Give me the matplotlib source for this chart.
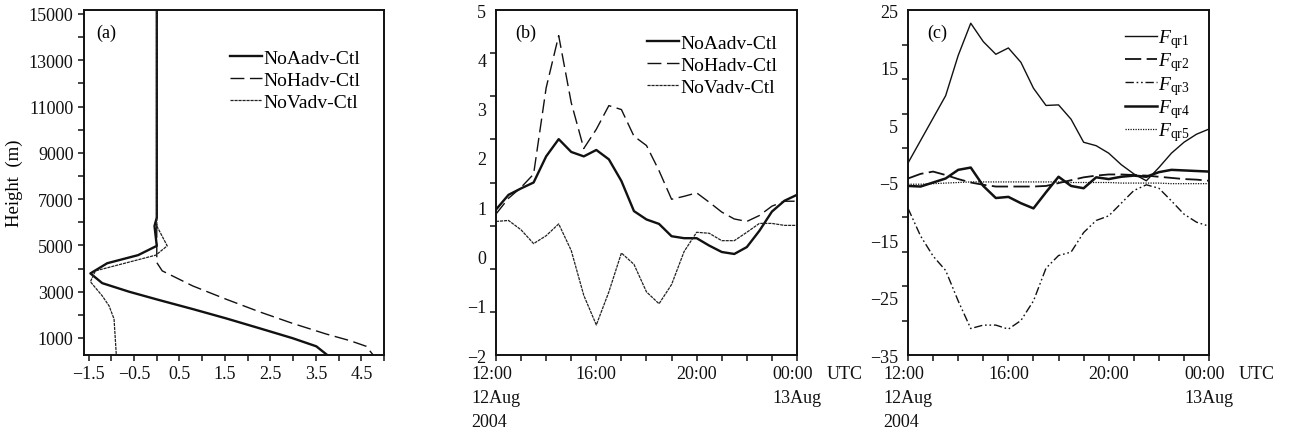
import matplotlib
matplotlib.use('Agg')
import matplotlib.pyplot as plt
import numpy as np

plt.rcParams['font.family'] = ['Liberation Serif', 'DejaVu Serif']
plt.rcParams['mathtext.fontset'] = 'custom'
plt.rcParams['mathtext.rm'] = 'Liberation Serif'
plt.rcParams['mathtext.it'] = 'Liberation Serif:italic'
plt.rcParams['axes.unicode_minus'] = True

# (a) vertical profiles, height in m
h_aadv = [15170, 6200, 5840, 4980, 4580, 4230, 3790, 3370, 3000, 2640, 2250, 1850, 1420, 990, 640, 265]
v_aadv = [0.0, 0.0, -0.05, 0.0, -0.41, -1.09, -1.46, -1.20, -0.61, 0.05, 0.79, 1.52, 2.26, 2.99, 3.51, 3.75]
h_hadv = [15170, 4260, 3900, 3250, 2680, 2130, 1630, 1170, 885, 640, 265]
v_hadv = [0.0, 0.0, 0.12, 0.79, 1.52, 2.26, 2.99, 3.73, 4.25, 4.61, 4.76]
h_vadv = [15170, 5840, 4980, 4580, 3900, 3430, 2820, 2390, 1820, 265]
v_vadv = [0.0, 0.0, 0.23, -0.02, -1.35, -1.46, -1.20, -1.05, -0.94, -0.89]

# (b) half-hourly series from 12:00 12 Aug to 00:00 13 Aug
hours = np.arange(0, 12.5, 0.5)
b_aadv = [0.95, 1.25, 1.38, 1.50, 2.03, 2.38, 2.12, 2.03, 2.16, 1.97, 1.53, 0.92, 0.75,
          0.66, 0.41, 0.37, 0.37, 0.22, 0.09, 0.05, 0.19, 0.52, 0.91, 1.13, 1.25]
b_hadv = [0.86, 1.18, 1.40, 1.67, 3.42, 4.48, 3.12, 2.19, 2.58, 3.06, 2.98, 2.44, 2.25,
          1.74, 1.16, 1.22, 1.29, 1.10, 0.90, 0.76, 0.71, 0.83, 1.02, 1.12, 1.12]
b_vadv = [0.71, 0.73, 0.54, 0.26, 0.42, 0.66, 0.12, -0.79, -1.39, -0.72, 0.07, -0.16, -0.72,
          -0.96, -0.57, 0.10, 0.49, 0.47, 0.32, 0.32, 0.49, 0.67, 0.67, 0.63, 0.63]

# (c) budget terms
fqr1 = [-1.6, 2.3, 6.2, 10.1, 17.1, 22.7, 19.5, 17.3, 18.4, 15.9, 11.4, 8.4, 8.5,
        6.0, 2.0, 1.4, 0.1, -1.9, -3.5, -4.7, -2.4, 0.1, 2.0, 3.4, 4.3]
fqr2 = [-4.3, -3.5, -3.1, -3.7, -4.4, -5.0, -5.4, -5.7, -5.7, -5.7, -5.7, -5.6, -5.1,
        -4.6, -4.1, -3.8, -3.6, -3.6, -3.7, -3.8, -4.0, -4.2, -4.4, -4.5, -4.7]
fqr3 = [-9.5, -14.3, -17.8, -20.3, -25.6, -30.4, -29.8, -29.8, -30.5, -29.0, -25.6, -19.9, -17.7,
        -17.1, -13.7, -11.6, -10.8, -8.6, -6.4, -5.4, -6.0, -8.2, -10.5, -11.9, -12.6]
fqr4 = [-5.6, -5.7, -5.0, -4.3, -2.8, -2.4, -5.6, -7.7, -7.5, -8.6, -9.5, -6.7, -4.0,
        -5.6, -6.0, -4.1, -4.4, -4.0, -3.8, -4.0, -3.2, -2.8, -2.9, -3.0, -3.1]
fqr5 = [-5.3, -5.3, -5.2, -5.1, -5.0, -4.9, -4.9, -4.9, -4.9, -4.9, -4.9, -4.9, -4.9,
        -5.0, -5.0, -5.0, -5.0, -5.1, -5.1, -5.1, -5.1, -5.2, -5.2, -5.2, -5.2]

time_ticks = [0, 4, 8, 12]
time_labels = ['12:00\n12Aug\n2004', '16:00', '20:00', '00:00\n13Aug']

TICK_FS = 13
LEG_FS = 14
K = '#111111'

fig = plt.figure(figsize=(12.97, 4.35), dpi=100)
ax_a = fig.add_axes([0.0648, 0.1816, 0.2313, 0.7931])
ax_b = fig.add_axes([0.3824, 0.1816, 0.2321, 0.7931])
ax_c = fig.add_axes([0.7001, 0.1816, 0.2321, 0.7931])

for ax in (ax_a, ax_b, ax_c):
    for s in ax.spines.values():
        s.set_linewidth(1.4)
        s.set_color(K)
    ax.tick_params(which='both', direction='out', length=4, width=1.1, colors=K,
                   labelsize=TICK_FS, top=False, right=False)

heavy = dict(color=K, lw=1.7, ls='-')
dash = dict(color=K, lw=1.0, ls=(0, (10, 4)))
thin = dict(color='#222222', lw=0.9, ls=(0, (2.5, 0.7)))
leg_kw = dict(loc='upper left', frameon=False, fontsize=LEG_FS, handlelength=1.65,
              handletextpad=0.05, borderpad=0, borderaxespad=0)

# (a)
ax_a.plot(v_aadv, h_aadv, label='NoAadv-Ctl', **heavy)
ax_a.plot(v_hadv, h_hadv, label='NoHadv-Ctl', **dash)
ax_a.plot(v_vadv, h_vadv, label='NoVadv-Ctl', **thin)
ax_a.set_xlim(-1.6, 5.0)
ax_a.set_ylim(265, 15170)
ax_a.set_xticks(np.arange(-1.5, 4.6, 1.0))
ax_a.set_xticks(np.arange(-1.0, 5.01, 1.0), minor=True)
ax_a.set_yticks(np.arange(1000, 15001, 2000))
ax_a.set_yticks(np.arange(2000, 14001, 2000), minor=True)
ax_a.set_ylabel('Height  (m)', fontsize=13.5, labelpad=4)
ax_a.text(0.04, 0.935, '(a)', transform=ax_a.transAxes, fontsize=13, va='center', ha='left')
ax_a.legend(bbox_to_anchor=(0.487, 0.885), labelspacing=0.22, **leg_kw)

# (b)
ax_b.plot(hours, b_aadv, label='NoAadv-Ctl', **heavy)
ax_b.plot(hours, b_hadv, label='NoHadv-Ctl', **dash)
ax_b.plot(hours, b_vadv, label='NoVadv-Ctl', **thin)
ax_b.set_ylim(-2, 5)
ax_b.set_yticks(np.arange(-2, 6, 1))
ax_b.set_yticks(np.linspace(-2, 5, 9), minor=True)
ax_b.tick_params(axis='y', which='major', length=0, pad=7)
ax_b.text(0.063, 0.935, '(b)', transform=ax_b.transAxes, fontsize=13, va='center', ha='left')
ax_b.legend(bbox_to_anchor=(0.502, 0.93), labelspacing=0.22, **leg_kw)

# (c)
ax_c.plot(hours, fqr1, label=r'$F_{\rm qr1}$', color=K, lw=1.0, ls='-')
ax_c.plot(hours, fqr2, label=r'$F_{\rm qr2}$', color=K, lw=1.3, ls=(0, (9, 3)))
ax_c.plot(hours, fqr3, label=r'$F_{\rm qr3}$', color=K, lw=1.0, ls=(0, (6, 2, 1.2, 2, 1.2, 2)))
ax_c.plot(hours, fqr4, label=r'$F_{\rm qr4}$', color=K, lw=1.8, ls='-')
ax_c.plot(hours, fqr5, label=r'$F_{\rm qr5}$', color=K, lw=0.9, ls=(0, (1, 1)))
ax_c.set_ylim(-35, 25)
ax_c.set_yticks(np.arange(-35, 26, 10))
ax_c.set_yticks(np.linspace(-35, 25, 11), minor=True)
ax_c.tick_params(axis='y', which='major', length=0, pad=7)
ax_c.text(0.063, 0.935, '(c)', transform=ax_c.transAxes, fontsize=13, va='center', ha='left')
ax_c.legend(bbox_to_anchor=(0.721, 0.95), labelspacing=0.02, **leg_kw)

for ax in (ax_b, ax_c):
    ax.set_xlim(0, 12)
    ax.set_xticks(time_ticks)
    ax.set_xticks(np.arange(0, 13, 1), minor=True)
    ax.set_xticklabels(time_labels, linespacing=1.55, multialignment='left')
    ax.tick_params(axis='x', which='both', pad=3)
    ax.annotate('UTC', xy=(1, 0), xycoords='axes fraction', xytext=(21, -7),
                textcoords='offset points', ha='left', va='top', fontsize=TICK_FS, color=K)

fig.savefig('out.png', dpi=100, facecolor='white')
